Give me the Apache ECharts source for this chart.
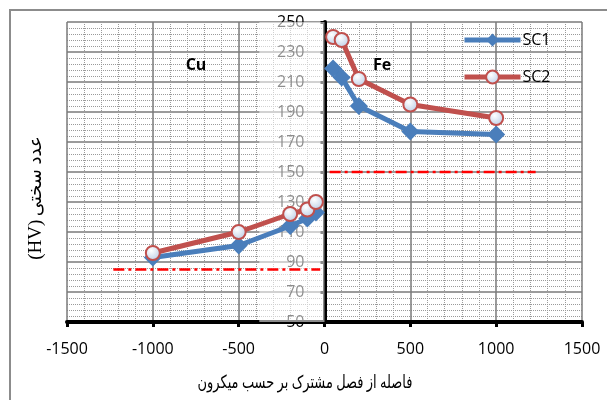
<!DOCTYPE html>
<html><head><meta charset="utf-8">
<script src="https://cdn.jsdelivr.net/npm/echarts@6/dist/echarts.min.js"></script>
<style>html,body{margin:0;padding:0;background:#fff}#c{width:607px;height:400px}</style>
</head><body><div id="c"></div>
<script>
// ---- data ----
const xTickValues = [-1500, -1000, -500, 0, 500, 1000, 1500];
const yTickValues = [50, 70, 90, 110, 130, 150, 170, 190, 210, 230, 250];
const seriesNames = ['SC1', 'SC2'];
const sc1Cu = [[-1000, 93], [-500, 101], [-200, 114], [-100, 119], [-50, 123]];
const sc1Fe = [[50, 219], [100, 213], [200, 194], [500, 177], [1000, 175]];
const sc2Cu = [[-1000, 96], [-500, 110], [-200, 122], [-100, 125], [-50, 130]];
const sc2Fe = [[50, 240], [100, 238], [200, 212], [500, 195], [1000, 186]];
const limitCu = [[-1230, 85], [-25, 85]];
const limitFe = [[30, 150], [1230, 150]];
const regionLabels = ['Cu', 'Fe'];
const xTitle = 'فاصله از فصل مشترک بر حسب میکرون';
const yTitleUnit = '(HV)';
const yTitleText = 'عدد سختی';

// ---- chart ----
const FONT = "'Open Sans', 'DejaVu Sans', sans-serif";
const blue = '#4a7ebb', red = '#c0504d';
const circleFill = {type: 'radial', x: 0.4, y: 0.35, r: 0.75,
  colorStops: [{offset: 0, color: '#ffffff'}, {offset: 1, color: '#b3c8e4'}]};
const sc1Style = {type: 'line', name: seriesNames[0], symbol: 'diamond', symbolSize: 18,
  lineStyle: {color: blue, width: 5}, itemStyle: {color: blue}, z: 3};
const sc2Style = {type: 'line', name: seriesNames[1], symbol: 'circle', symbolSize: 14,
  lineStyle: {color: red, width: 5}, itemStyle: {color: circleFill, borderColor: red, borderWidth: 2}, z: 4};
const limitStyle = {type: 'line', symbol: 'none', silent: true,
  lineStyle: {color: '#ff0000', width: 2.5, type: [11, 4, 3, 4]}, z: 2};

const GRID_L = 67, GRID_R = 25;
const plotW = 607 - GRID_L - GRID_R;
const chart = echarts.init(document.getElementById('c'));
chart.setOption({
  animation: false,
  textStyle: {fontFamily: FONT},
  grid: {left: GRID_L, right: GRID_R, top: 22, bottom: 78},
  legend: {
    data: seriesNames, orient: 'vertical', left: 457, top: 27,
    itemWidth: 56, itemHeight: 16, itemGap: 21,
    lineStyle: {width: 5},
    textStyle: {fontSize: 16, color: '#000', fontFamily: FONT, padding: [0, 0, 0, -3]}
  },
  xAxis: {
    type: 'value', min: xTickValues[0], max: xTickValues[xTickValues.length - 1], interval: 500,
    axisLine: {onZero: false, lineStyle: {color: '#000', width: 4}},
    axisTick: {length: 5, lineStyle: {color: '#000', width: 3}},
    axisLabel: {fontSize: 16, color: '#000', margin: 19, fontFamily: FONT, formatter: v => String(v)},
    splitLine: {lineStyle: {color: '#7a7a7a', width: 1.5}},
    minorTick: {show: false, splitNumber: 5},
    minorSplitLine: {show: true, lineStyle: {color: '#9a9a9a', type: 'dotted', width: 1}}
  },
  yAxis: {
    type: 'value', min: yTickValues[0], max: yTickValues[yTickValues.length - 1], interval: 20,
    offset: -plotW / 2,
    axisLine: {onZero: false, lineStyle: {color: '#000', width: 4}},
    axisTick: {length: 4, lineStyle: {color: '#000', width: 3}},
    axisLabel: {fontSize: 16, color: '#000', margin: 20, fontFamily: FONT, formatter: v => String(v)},
    splitLine: {lineStyle: {color: '#7a7a7a', width: 1.5}},
    minorTick: {show: false, splitNumber: 5},
    minorSplitLine: {show: true, lineStyle: {color: '#9a9a9a', type: 'dotted', width: 1}}
  },
  series: [
    Object.assign({}, limitStyle, {name: 'limitCu', data: limitCu,
      markArea: {silent: true, itemStyle: {color: 'rgba(255,255,255,0.55)'},
        data: [[{xAxis: -380, yAxis: 50}, {xAxis: 0, yAxis: 250}]]}}),
    Object.assign({}, limitStyle, {name: 'limitFe', data: limitFe}),
    Object.assign({}, sc1Style, {data: sc1Cu}),
    Object.assign({}, sc1Style, {data: sc1Fe}),
    Object.assign({}, sc2Style, {data: sc2Cu}),
    Object.assign({}, sc2Style, {data: sc2Fe})
  ],
  graphic: [
    {type: 'rect', shape: {x: 10, y: 10, width: 700, height: 500}, silent: true, z: -10,
      style: {fill: 'none', stroke: '#8c8c8c', lineWidth: 2}},
    {type: 'text', x: 196, y: 65, z: 50,
      style: {text: regionLabels[0], font: "bold 16px " + FONT, fill: '#000', textAlign: 'center', textVerticalAlign: 'middle'}},
    {type: 'text', x: 382, y: 65, z: 50,
      style: {text: regionLabels[1], font: "bold 16px " + FONT, fill: '#000', textAlign: 'center', textVerticalAlign: 'middle'}},
    {type: 'text', x: 305, y: 383, z: 50, scaleX: 0.72,
      style: {text: xTitle, font: "18px " + FONT, fill: '#000', textAlign: 'center', textVerticalAlign: 'middle'}},
    {type: 'text', x: 36, y: 198, rotation: Math.PI / 2, z: 50,
      style: {
        text: '{u|' + yTitleUnit + '} {a|' + yTitleText + '}',
        textAlign: 'center', textVerticalAlign: 'middle', fill: '#000',
        rich: {
          u: {fontFamily: "'Liberation Serif', serif", fontSize: 19, fill: '#000'},
          a: {fontFamily: FONT, fontSize: 18, fill: '#000'}
        }
      }}
  ]
});
</script>
</body></html>
